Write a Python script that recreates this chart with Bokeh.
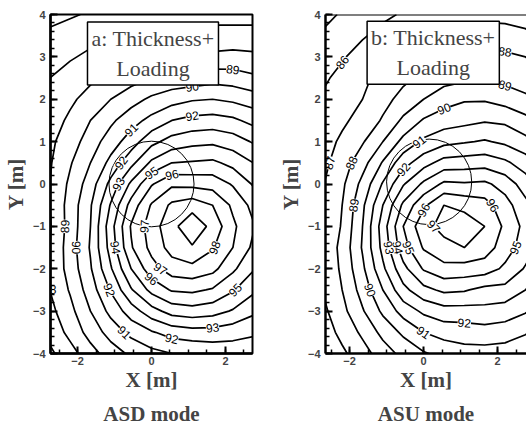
import math
import numpy as np
import contourpy
from bokeh.plotting import figure
from bokeh.layouts import row
from bokeh.models import Label, Span, FixedTicker, Title
from bokeh.core.properties import value
from bokeh.embed import file_html
from bokeh.resources import INLINE

# grid nodes (m)
x_nodes = [-2.75, -2.2, -1.65, -1.1, -0.55, 0.0, 0.55, 1.1, 1.65, 2.2, 2.75, 3.3]
y_nodes = [-4.0, -3.5, -3.0, -2.5, -2.0, -1.5, -1.0, -0.5, 0.0, 0.5, 1.0, 1.5, 2.0, 2.5, 3.0, 3.5, 4.0]

# noise level (dB) (ASD mode), rows from y=-4 up to y=4
level_asd = [
    [86.8, 87.6, 88.6, 89.5, 90.2, 90.7, 91.0, 91.1, 91.3, 91.4, 91.2, 91.0],
    [87.3, 88.3, 89.4, 90.4, 91.3, 91.9, 92.4, 92.6, 92.6, 92.4, 92.2, 91.8],
    [87.7, 88.7, 90.0, 91.3, 92.5, 93.6, 94.4, 94.6, 94.4, 93.9, 93.2, 92.6],
    [88.0, 89.1, 90.5, 92.1, 93.9, 95.3, 96.1, 96.2, 95.9, 95.1, 94.2, 93.3],
    [88.1, 89.4, 90.9, 92.9, 95.0, 96.6, 97.5, 97.7, 97.3, 96.2, 95.1, 94.0],
    [88.0, 89.5, 91.1, 93.4, 95.9, 97.3, 98.4, 98.9, 98.1, 97.0, 95.8, 94.6],
    [87.9, 89.4, 91.0, 93.6, 96.1, 97.5, 98.7, 99.7, 98.7, 97.2, 96.1, 94.9],
    [88.0, 89.4, 90.9, 93.1, 95.4, 97.1, 98.2, 98.6, 98.0, 96.8, 95.7, 94.6],
    [88.0, 89.2, 90.5, 92.3, 94.2, 95.9, 96.8, 96.7, 96.6, 95.9, 94.9, 93.9],
    [87.9, 88.9, 90.0, 91.3, 92.7, 94.2, 95.0, 95.1, 95.2, 94.7, 94.0, 93.1],
    [87.8, 88.5, 89.5, 90.5, 91.5, 92.7, 93.4, 93.7, 93.8, 93.5, 92.9, 92.2],
    [87.5, 88.2, 89.0, 89.8, 90.6, 91.3, 92.0, 92.3, 92.4, 92.2, 91.7, 91.1],
    [87.3, 87.8, 88.4, 89.0, 89.6, 90.2, 90.6, 90.9, 91.0, 90.8, 90.5, 90.0],
    [87.0, 87.4, 87.8, 88.2, 88.6, 89.0, 89.3, 89.4, 89.6, 89.5, 89.2, 88.9],
    [86.6, 86.9, 87.2, 87.5, 87.7, 88.0, 88.0, 88.0, 88.2, 88.3, 88.2, 88.0],
    [86.2, 86.4, 86.7, 86.9, 87.1, 87.2, 87.2, 87.3, 87.4, 87.4, 87.4, 87.2],
    [85.7, 85.9, 86.1, 86.3, 86.4, 86.5, 86.5, 86.4, 86.6, 86.6, 86.6, 86.5],
]

# noise level (dB) (ASU mode), rows from y=-4 up to y=4
level_asu = [
    [86.0, 86.8, 87.6, 88.5, 89.3, 89.9, 90.3, 90.6, 90.6, 90.5, 90.2, 89.8],
    [86.4, 87.3, 88.2, 89.3, 90.2, 91.0, 91.4, 91.5, 91.6, 91.5, 91.1, 90.6],
    [86.7, 87.7, 88.9, 90.2, 91.4, 92.2, 92.6, 92.6, 92.7, 92.5, 92.1, 91.5],
    [87.0, 88.0, 89.4, 91.0, 92.7, 93.7, 94.2, 94.1, 93.7, 93.7, 93.0, 92.3],
    [87.0, 88.2, 89.8, 91.8, 93.7, 95.1, 95.7, 95.6, 95.5, 94.8, 93.9, 93.0],
    [87.1, 88.3, 90.1, 92.3, 94.6, 96.1, 96.7, 97.0, 96.5, 95.5, 94.5, 93.5],
    [86.9, 88.1, 90.0, 92.5, 95.0, 96.7, 97.3, 97.6, 97.0, 95.8, 94.7, 93.7],
    [86.9, 88.0, 89.8, 92.0, 94.2, 95.8, 97.0, 96.7, 96.4, 95.4, 94.3, 93.3],
    [86.9, 87.8, 89.3, 91.1, 92.9, 94.2, 95.2, 95.1, 95.2, 94.6, 93.5, 92.6],
    [86.7, 87.5, 88.6, 90.1, 91.6, 92.6, 93.4, 93.5, 93.6, 93.2, 92.5, 91.7],
    [86.5, 87.2, 87.9, 89.0, 90.3, 91.2, 91.7, 91.9, 92.1, 91.8, 91.3, 90.7],
    [86.3, 86.8, 87.4, 88.1, 89.2, 90.1, 90.5, 90.7, 90.9, 90.8, 90.3, 89.8],
    [86.1, 86.6, 87.0, 87.7, 88.3, 89.0, 89.6, 89.9, 89.9, 89.6, 89.2, 88.8],
    [85.8, 86.3, 86.8, 87.3, 87.8, 88.2, 88.6, 88.8, 88.8, 88.7, 88.5, 88.1],
    [85.5, 85.9, 86.4, 86.8, 87.3, 87.7, 88.0, 88.2, 88.2, 88.2, 88.0, 87.6],
    [85.1, 85.5, 85.9, 86.3, 86.7, 87.0, 87.3, 87.5, 87.5, 87.4, 87.2, 86.9],
    [84.7, 85.1, 85.5, 85.8, 86.1, 86.4, 86.6, 86.7, 86.7, 86.7, 86.6, 86.3],
]

levels_a = [85, 86, 87, 88, 89, 90, 91, 92, 93, 94, 95, 96, 97, 98, 99]
levels_b = [85, 86, 87, 88, 89, 90, 91, 92, 93, 94, 95, 96, 97]

# contour labels: level and approximate place where the reference writes it
lab_a_lev = [89, 90, 92, 91, 92, 93, 95, 96, 97, 98, 89, 90, 94, 92, 88, 97, 96, 95, 91, 93, 92]
lab_a_x = [2.05, 1.3, 1.37, -0.43, -0.89, -0.97, -0.1, 0.78, -0.22, 1.78, -2.27, -2.14, -1.2, -1.38, -2.45, 0.33, 0.24, 2.4, -0.84, 1.86, 0.78]
lab_a_y = [2.5, 2.25, 1.6, 1.28, 0.3, -0.1, 0.1, 0.14, -0.78, -1.26, -0.95, -1.45, -1.65, -2.3, -2.5, -2.07, -2.3, -2.25, -3.46, -3.35, -3.63]

lab_b_lev = [86, 88, 89, 90, 91, 92, 87, 88, 89, 97, 96, 96, 95, 93, 94, 95, 90, 91, 92]
lab_b_x = [-2.24, 2.5, 2.5, 0.41, -0.35, -0.68, -2.13, -1.68, -1.92, 0.38, 0.0, 2.0, 2.5, -1.05, -0.85, -0.6, -1.35, -0.3, 0.9]
lab_b_y = [2.78, 3.13, 2.14, 1.9, 0.9, 0.35, 0.47, 0.47, -0.47, -0.83, -0.85, -0.4, -1.3, -1.35, -1.45, -1.45, -2.68, -3.5, -3.67]

# rotor disk outline: centre x, centre y, width, height (m)
circle_a = (0.0, 0.0, 2.3, 2.02)
circle_b = (0.15, 0.05, 2.3, 2.02)


def label_positions(z, levs, lx, ly, xmax, sx=37.0, sy=42.9):
    gen = contourpy.contour_generator(np.array(x_nodes), np.array(y_nodes), z, line_type="Separate")
    X, Y, A, T = [], [], [], []
    for lev, tx, ty in zip(levs, lx, ly):
        best = None
        for ln in gen.lines(lev):
            ok = ln[:, 0] < xmax
            if not ok.any():
                continue
            d = ((ln[:, 0] - tx) * sx) ** 2 + ((ln[:, 1] - ty) * sy) ** 2
            d[~ok] = np.inf
            i = int(np.argmin(d))
            if best is None or d[i] < best[0]:
                best = (d[i], ln, i)
        if best is None:
            continue
        _, ln, i = best
        i0 = max(i - 1, 0)
        i1 = min(i + 1, len(ln) - 1)
        ang = math.atan2((ln[i1, 1] - ln[i0, 1]) * sy, (ln[i1, 0] - ln[i0, 0]) * sx)
        if ang > math.pi / 2:
            ang -= math.pi
        if ang < -math.pi / 2:
            ang += math.pi
        X.append(ln[i, 0]); Y.append(ln[i, 1]); A.append(ang); T.append(str(lev))
    return X, Y, A, T


def make_panel(z, levels, labs, circ, box_xy, box_text, caption, xr, w, h, mbl, mbr, mbt, mbb,
               full_outline, cap_offset):
    p = figure(width=w, height=h, x_range=xr, y_range=(-4, 4),
               min_border_left=mbl, min_border_right=mbr, min_border_top=mbt, min_border_bottom=mbb,
               toolbar_location=None, tools="", output_backend="svg")
    p.xgrid.visible = False
    p.ygrid.visible = False
    p.background_fill_color = "white"
    p.border_fill_color = "white"
    if full_outline:
        p.outline_line_color = "black"
        p.outline_line_width = 2
    else:
        p.outline_line_color = None
        p.add_layout(Span(location=4, dimension="width", line_color="black", line_width=2))
    p.contour(x_nodes, y_nodes, z, levels=levels, line_color="black", line_width=1.7)
    p.ellipse(x=[circ[0]], y=[circ[1]], width=[circ[2]], height=[circ[3]],
              fill_color=None, line_color="black", line_width=1)
    X, Y, A, T = label_positions(z, *labs, xmax=xr[1] - 0.2)
    p.text(x=X, y=Y, text=T, angle=A, text_align="center", text_baseline="middle",
           text_font=value("Liberation Sans"), text_font_size="12px", text_color="black",
           background_fill_color="white")
    p.add_layout(Label(x=box_xy[0], y=box_xy[1], text=box_text, text_align="center",
                       text_baseline="middle", text_font="Liberation Serif", text_font_size="22px",
                       background_fill_color="white", border_line_color="black",
                       border_line_width=1.5, padding=4))
    p.yaxis.ticker = FixedTicker(ticks=[-4, -3, -2, -1, 0, 1, 2, 3, 4],
                                 minor_ticks=list(np.round(np.arange(-4, 4.01, 0.2), 2)))
    p.xaxis.ticker = FixedTicker(ticks=[-2, 0, 2],
                                 minor_ticks=list(np.round(np.arange(-3, 3.01, 0.5), 2)))
    for ax in (p.xaxis[0], p.yaxis[0]):
        ax.axis_line_width = 2.5
        ax.major_tick_in = 7
        ax.major_tick_out = 0
        ax.minor_tick_in = 4
        ax.minor_tick_out = 0
        ax.major_tick_line_width = 2
        ax.minor_tick_line_width = 1.5
        ax.major_label_text_font = "Liberation Sans"
        ax.major_label_text_font_style = "bold"
        ax.major_label_text_font_size = "11px"
        ax.axis_label_text_font = "Liberation Serif"
        ax.axis_label_text_font_style = "bold"
        ax.axis_label_text_font_size = "21px"
    p.yaxis.axis_label = "Y [m]"
    p.xaxis.axis_label = "X [m]"
    p.yaxis.major_label_standoff = 5
    p.yaxis.axis_label_standoff = 2
    p.xaxis.major_label_standoff = 3
    p.xaxis.axis_label_standoff = 0
    p.add_layout(Title(text=caption, align="center", text_font="Liberation Serif",
                       text_font_size="21px", text_font_style="bold", standoff=10,
                       offset=cap_offset), "below")
    return p


za = np.array(level_asd)
zb = np.array(level_asu)

pa = make_panel(za, levels_a, (lab_a_lev, lab_a_x, lab_a_y), circle_a, (0.04, 3.08),
                "a: Thickness+\nLoading", "ASD mode", (-2.73, 2.73), 268, 432, 50, 16, 14, 75, True, 0)
pb = make_panel(zb, levels_b, (lab_b_lev, lab_b_x, lab_b_y), circle_b, (0.26, 3.1),
                "b: Thickness+\nLoading", "ASU mode", (-2.65, 2.78), 258, 432, 57, 0, 11, 79, False, 4)

layout = row(pa, pb)
open("out.html", "w").write(file_html(layout, INLINE))
